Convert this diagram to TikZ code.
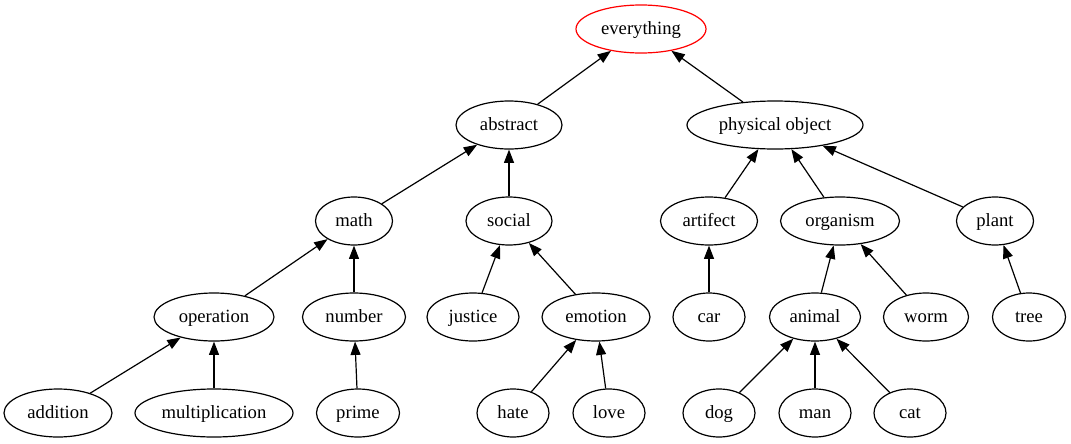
\documentclass[tikz,border=0pt]{standalone}
\usepackage{fontspec}
\setmainfont{Liberation Serif}
\usetikzlibrary{shapes.geometric,arrows.meta}
\begin{document}
\begin{tikzpicture}[x=0.75pt,y=-0.75pt,
  gnode/.style={ellipse,draw=black,line width=0.9pt,minimum height=36pt,inner sep=0pt,
    text height=10.5pt,text depth=3pt,
    font=\fontsize{14pt}{16pt}\selectfont},
  wd/.style={minimum width=#1*0.75pt},
  edge/.style={draw=black,line width=0.9pt,-{Triangle[length=10pt,width=7.5pt]}}]
\useasboundingbox (0,0) rectangle (1071,443);
% rank 0
\node[gnode,wd=130,draw=red] (everything) at (641,29) {everything};
% rank 1
\node[gnode,wd=106] (abstract) at (509,125) {abstract};
\node[gnode,wd=176] (physical) at (775,125) {physical object};
% rank 2
\node[gnode,wd=77] (math) at (354,221) {math};
\node[gnode,wd=86] (social) at (509,221) {social};
\node[gnode,wd=97] (artifect) at (709,221) {artifect};
\node[gnode,wd=119] (organism) at (840,221) {organism};
\node[gnode,wd=77] (plant) at (995,221) {plant};
% rank 3
\node[gnode,wd=120] (operation) at (214,317) {operation};
\node[gnode,wd=103] (number) at (354,317) {number};
\node[gnode,wd=92] (justice) at (473,317) {justice};
\node[gnode,wd=108] (emotion) at (596,317) {emotion};
\node[gnode,wd=72] (car) at (709,317) {car};
\node[gnode,wd=91] (animal) at (815,317) {animal};
\node[gnode,wd=85] (worm) at (926,317) {worm};
\node[gnode,wd=73] (tree) at (1029,317) {tree};
% rank 4
\node[gnode,wd=108] (addition) at (58,413) {addition};
\node[gnode,wd=158] (multiplication) at (214,413) {multiplication};
\node[gnode,wd=83] (prime) at (358,413) {prime};
\node[gnode,wd=72] (hate) at (513,413) {hate};
\node[gnode,wd=72] (love) at (609,413) {love};
\node[gnode,wd=72] (dog) at (719,413) {dog};
\node[gnode,wd=72] (man) at (815,413) {man};
\node[gnode,wd=72] (cat) at (910,413) {cat};
% edges
\draw[edge] (abstract) -- (everything);
\draw[edge] (physical) -- (everything);
\draw[edge] (math) -- (abstract);
\draw[edge] (social) -- (abstract);
\draw[edge] (artifect) -- (physical);
\draw[edge] (organism) -- (physical);
\draw[edge] (plant) -- (physical);
\draw[edge] (operation) -- (math);
\draw[edge] (number) -- (math);
\draw[edge] (justice) -- (social);
\draw[edge] (emotion) -- (social);
\draw[edge] (car) -- (artifect);
\draw[edge] (animal) -- (organism);
\draw[edge] (worm) -- (organism);
\draw[edge] (tree) -- (plant);
\draw[edge] (addition) -- (operation);
\draw[edge] (multiplication) -- (operation);
\draw[edge] (prime) -- (number);
\draw[edge] (hate) -- (emotion);
\draw[edge] (love) -- (emotion);
\draw[edge] (dog) -- (animal);
\draw[edge] (man) -- (animal);
\draw[edge] (cat) -- (animal);
\end{tikzpicture}
\end{document}
